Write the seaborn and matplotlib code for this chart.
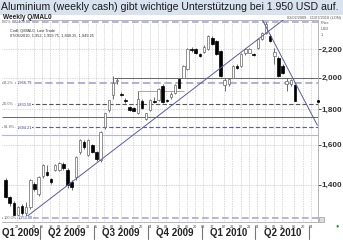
import numpy as np
import pandas as pd
import matplotlib
matplotlib.use("Agg")
import matplotlib.pyplot as plt
import matplotlib.dates as mdates
from matplotlib.ticker import NullLocator
from matplotlib.patches import Rectangle
import seaborn as sns

# ---------------- data ----------------
title = "Aluminium (weekly cash) gibt wichtige Unterstützung bei 1.950 USD auf."
first_week = "2009-02-02"
opens = [1420, 1345, 1318, 1266, 1305, 1275, 1300, 1405, 1358, 1440,
         1462, 1425, 1470, 1472, 1500, 1470, 1413, 1436, 1560, 1615,
         1546, 1596, 1560, 1519, 1695, 1793, 1885, 1975, 1897, 1854,
         1811, 1805, 1776, 1850, 1740, 1793, 1850, 1854, 1948, 1858,
         1872, 1900, 1993, 2000, 2060, 2200, 2202, 2165, 2180, 2202,
         2284, 2261, 2187, 1950, 1955, 2000, 2081, 2081, 2170, 2175,
         2166, 2205, 2276, 2322, 2299, 2150, 2137, 2081, 1955, 1955,
         1952]
highs = [1432, 1350, 1325, 1305, 1312, 1320, 1428, 1412, 1440, 1500,
         1494, 1432, 1500, 1508, 1512, 1480, 1420, 1540, 1630, 1625,
         1628, 1605, 1568, 1672, 1780, 1858, 2013, 2000, 1905, 1870,
         1820, 1812, 1916, 1860, 1780, 1860, 1875, 1935, 1960, 1865,
         1905, 1960, 2000, 2085, 2205, 2215, 2208, 2175, 2230, 2305,
         2300, 2270, 2195, 1995, 2000, 2085, 2090, 2170, 2205, 2205,
         2170, 2280, 2330, 2408, 2310, 2205, 2150, 2095, 2000, 1993,
         1959.75]
lows = [1340, 1305, 1262, 1257, 1265, 1253, 1290, 1372, 1350, 1430,
        1440, 1405, 1465, 1466, 1470, 1385, 1376, 1420, 1550, 1575,
        1540, 1555, 1515, 1510, 1688, 1785, 1860, 1955, 1880, 1840,
        1790, 1788, 1770, 1800, 1735, 1788, 1835, 1848, 1835, 1845,
        1865, 1895, 1930, 1995, 2050, 2180, 2165, 2145, 2175, 2195,
        2230, 2160, 2005, 1916, 1948, 1995, 2060, 2075, 2160, 2168,
        2150, 2200, 2270, 2315, 2255, 2095, 2005, 2025, 1916, 1948,
        1849.25]
closes = [1345, 1318, 1266, 1300, 1272, 1300, 1422, 1380, 1436, 1494,
          1446, 1413, 1494, 1504, 1480, 1399, 1390, 1534, 1623, 1585,
          1623, 1560, 1525, 1667, 1776, 1854, 1967, 1982, 1885, 1848,
          1793, 1792, 1860, 1810, 1776, 1854, 1845, 1929, 1842, 1850,
          1897, 1952, 1935, 2081, 2202, 2190, 2173, 2152, 2215, 2299,
          2238, 2166, 2013, 1985, 1993, 2081, 2067, 2166, 2200, 2200,
          2155, 2276, 2322, 2392, 2261, 2180, 2013, 2033, 1980, 1985,
          1849.25]
weeks = pd.date_range(first_week, periods=len(closes), freq="7D")

fib_pct = ["0.0%", "38.2%", "50.0%", "61.8%", "100.0%"]
fib_vals = [2408.00, 1966.79, 1830.50, 1694.21, 1253.00]
fib_text = ["2,408.00", "1,966.79", "1,830.50", "1,694.21", "1,253.00"]

ytick_vals = [1400, 1600, 1800, 2000, 2200]
ytick_labels = ["1,400", "1,600", "1,800", "2,000", "2,200"]

tick_dates = ["2009-02-22", "2009-03-22", "2009-04-05", "2009-04-19", "2009-05-03",
              "2009-05-17", "2009-06-07", "2009-06-21", "2009-07-05", "2009-07-19",
              "2009-08-02", "2009-08-16", "2009-09-06", "2009-09-20", "2009-10-04",
              "2009-10-18", "2009-11-01", "2009-11-22", "2009-12-06", "2009-12-20",
              "2010-01-03", "2010-01-17", "2010-02-07", "2010-02-21", "2010-03-07",
              "2010-03-21", "2010-04-04", "2010-04-18", "2010-05-02", "2010-05-16",
              "2010-06-06", "2010-06-20", "2010-07-04"]
tick_labels = ["22", "22", "05", "19", "03", "17", "07", "21", "05", "19", "02", "16",
               "06", "20", "04", "18", "01", "22", "06", "20", "03", "17", "07", "21",
               "07", "21", "04", "18", "02", "16", "06", "20", "04"]

quarters = ["Q1 2009", "Q2 2009", "Q3 2009", "Q4 2009", "Q1 2010", "Q2 2010"]
quarter_bounds = ["2009-01-27", "2009-04-01", "2009-07-01", "2009-10-01",
                  "2010-01-01", "2010-04-01", "2010-07-01"]

support_lines = [(2000, "2009-08-05"), (1752, "2009-01-27")]
purple_line = 1650
short_line = (1916, "2009-09-14", "2009-12-01")

trend_up_dates = ["2009-03-07", "2010-05-18"]
trend_up_vals = [1253, 2424]
trend_dn_dates = ["2010-04-13", "2010-07-15"]
trend_dn_vals = [2424, 1706]

x_start, x_end = "2009-01-27", "2010-07-16"
y_min, y_max = 1236, 2424

# ---------------- figure ----------------
sns.set_style("white")
plt.rcParams["font.family"] = ["Liberation Sans", "DejaVu Sans"]

W, H = 343, 240
fig = plt.figure(figsize=(W / 100, H / 100), dpi=100)
fig.patch.set_facecolor("white")

# title band
fig.patches.append(Rectangle((0, 1 - 15 / H), 1, 15 / H, transform=fig.transFigure,
                             facecolor="#d9e3ef", edgecolor="none", zorder=0))
fig.text(1 / W, 1 - 7.5 / H, title, fontsize=7.55, color="#1b1b1b", va="center", ha="left")
fig.text(3 / W, 1 - 17.5 / H, "Weekly Q/MAL0", fontsize=4.7, fontweight="bold",
         color="#222222", va="center", ha="left")
fig.text(341 / W, 1 - 17.5 / H, "02/02/2009 - 11/07/2010 (LON)", fontsize=2.8,
         color="#555555", va="center", ha="right")

ax = fig.add_axes([2 / W, 1 - 222 / H, 316 / W, 202 / H])
ax.set_yscale("log")
ax.set_ylim(y_min, y_max)
ax.set_xlim(pd.Timestamp(x_start), pd.Timestamp(x_end))

df = pd.DataFrame({"week": weeks, "open": opens, "high": highs,
                   "low": lows, "close": closes})
df["up"] = df["close"] >= df["open"]

# wicks
ax.vlines(df["week"], df["low"], df["high"], color="#555555", linewidth=0.6, zorder=3)
# bodies
body_lo = np.minimum(df["open"], df["close"])
body_hi = np.maximum(df["open"], df["close"])
cols = np.where(df["up"], "white", "black")
edges = np.where(df["up"], "#666666", "black")
ax.bar(df["week"], body_hi - body_lo, bottom=body_lo, width=4.2,
       color=cols, edgecolor=edges, linewidth=0.5, zorder=4)

# grid
ax.set_xticks(pd.to_datetime(tick_dates))
ax.set_xticklabels(tick_labels)
ax.tick_params(axis="x", labelsize=2.8, length=0, pad=2.0, colors="#444444")
ax.set_yticks(ytick_vals)
ax.set_yticklabels(ytick_labels)
ax.yaxis.set_minor_locator(NullLocator())
ax.yaxis.tick_right()
ax.tick_params(axis="y", labelsize=5.9, length=2, width=0.6, pad=0.8,
               colors="#333333", right=True)
for t in ax.get_yticklabels():
    t.set_fontweight("bold")
ax.grid(True, axis="both", linestyle=(0, (1, 1.5)), color="#b3b3b3", linewidth=0.5)
ax.set_axisbelow(True)
ax.spines["left"].set_visible(False)
for s in ["top", "right", "bottom"]:
    ax.spines[s].set_color("#aaaaaa")
    ax.spines[s].set_linewidth(0.6)

# horizontal support / fib lines
for lvl, start in support_lines:
    ax.hlines(lvl, pd.Timestamp(start), pd.Timestamp(x_end), color="#666666",
              linewidth=0.7, zorder=2)
ax.axhline(purple_line, color="#b5b5d8", linewidth=0.8, zorder=2)
ax.hlines(short_line[0], pd.Timestamp(short_line[1]), pd.Timestamp(short_line[2]),
          color="#888888", linewidth=0.5, zorder=2)
fib_colors = ["#a9a9d6", "#a9a9d6", "#555555", "#5c5cb8", "#a9a9d6"]
fib_widths = [1.2, 1.3, 0.8, 0.8, 1.2]
for v, c, lw in zip(fib_vals, fib_colors, fib_widths):
    ax.axhline(v, color=c, linewidth=lw, linestyle=(0, (4, 2)), zorder=2.5)
for p, v, t in zip(fib_pct, fib_vals, fib_text):
    ax.text(0.004, v, p, transform=ax.get_yaxis_transform(), fontsize=2.8,
            color="#666666", va="center", ha="left", zorder=6,
            bbox=dict(facecolor="white", edgecolor="none", pad=0.2))
    ax.text(0.045 if len(p) < 6 else 0.05, v, t, transform=ax.get_yaxis_transform(),
            fontsize=2.8, color="#3a3aa0", va="center", ha="left", zorder=6,
            bbox=dict(facecolor="white", edgecolor="none", pad=0.2))

# trend lines
sns.lineplot(x=pd.to_datetime(trend_up_dates), y=trend_up_vals, ax=ax,
             color="#5a5aa8", linewidth=0.7, zorder=5)
sns.lineplot(x=pd.to_datetime(trend_dn_dates), y=trend_dn_vals, ax=ax,
             color="#5a5aa8", linewidth=0.7, zorder=5)

# last price marker
sns.scatterplot(x=[pd.Timestamp(x_end)], y=[closes[-1]], ax=ax, color="black",
                s=5, linewidth=0, zorder=7, clip_on=False)

ax.set_xlabel("")
ax.set_ylabel("")

# info text inside plot
ax.text(0.025, 0.945, "Cndl; Q/MAL0, Last Trade", transform=ax.transAxes,
        fontsize=2.8, color="#333333", va="center")
ax.text(0.025, 0.922, "07/06/2010, 1,952, 1,959.75, 1,849.25, 1,849.25",
        transform=ax.transAxes, fontsize=2.8, color="#333333", va="center")

# price/usd label at right
for i, s in enumerate(["Price", "USD", "1"]):
    fig.text(321 / W, 1 - (23 + 6 * i) / H, s, fontsize=2.8, color="#555555",
             va="center", ha="left")

# quarter labels
qb = pd.to_datetime(quarter_bounds)
xl1 = mdates.date2num(pd.Timestamp(x_end))
for i, q in enumerate(quarters):
    a = mdates.date2num(qb[i])
    b = min(mdates.date2num(qb[i + 1]), xl1)
    ax.text((a + b) / 2, -0.052, q, transform=ax.get_xaxis_transform(),
            fontsize=7, fontweight="bold", color="#222222", ha="center", va="center",
            clip_on=False)
for d in qb[1:]:
    ax.plot([d, d], [-0.085, -0.02], transform=ax.get_xaxis_transform(),
            color="#777777", linewidth=0.8, clip_on=False)

# bottom right icons
fig.patches.append(Rectangle((319 / W, 1 - 222 / H), 5 / W, 5 / H, transform=fig.transFigure,
                             facecolor="#dddddd", edgecolor="#888888", linewidth=0.4))
fig.text(337 / W, 1 - 226 / H, "●", fontsize=4, color="#1a9a2a", ha="center", va="center")

fig.savefig("out.png", dpi=100)
